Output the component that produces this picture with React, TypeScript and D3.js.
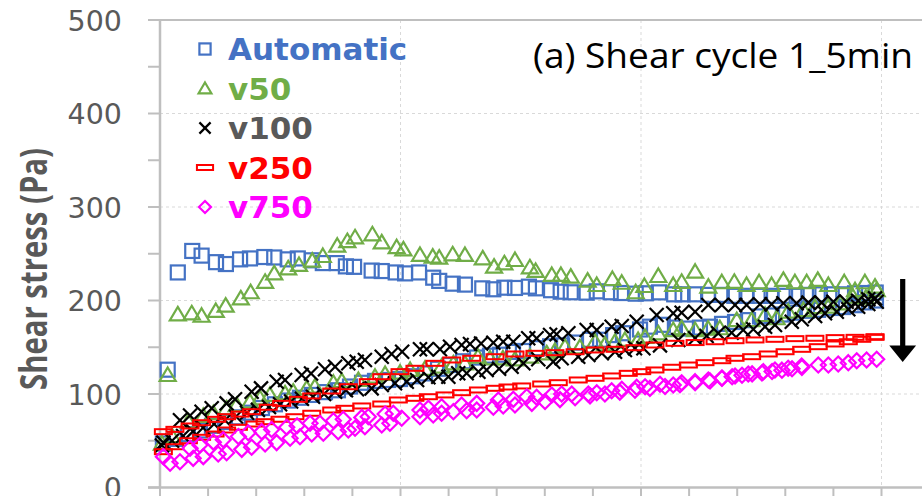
import React from 'react';
import * as d3 from 'd3';

const W = 922;
const H = 496;

const yTickValues = [0, 100, 200, 300, 400, 500];
const yMinorTicks = [0, 50, 100, 150, 200, 250, 300, 350, 400, 450, 500];
const xMinorTicks = d3.range(0, 321, 20);
const xGridValues = [100, 200, 300];

const legendNames = ['Automatic', 'v50', 'v100', 'v250', 'v750'];
const titleText = '(a) Shear cycle 1_5min';
const yTitle = 'Shear stress (Pa)';

type P = [number, number];

const automaticUp: P[] = [[3.2,126],[7.4,230],[13.4,253],[17.3,248],[23.3,241],[27.4,239],[33.3,244],[37.4,245],[43.4,246.5],[47.5,246],[53.1,244],[57.3,245],[63.1,243],[67.7,240],[73.5,240],[77.3,236.5],[80.7,236],[88.0,232],[92.2,231.5],[98.0,230],[101.9,229],[107.7,230],[113.6,224.4],[116.1,221],[121.7,218],[126.8,217],[134.0,213],[138.6,212],[143.2,213.7],[147.6,213.4],[153.4,214.8],[156.3,213],[162.6,211],[166.6,209.4],[170.8,208.8],[177.4,208.4],[181.6,209.8],[187.4,208.8],[191.7,208],[197.8,207.3],[202.0,207.7],[207.5,208.7],[213.8,206.6],[217.3,206.6],[222.5,206.6],[227.9,206],[233.6,206],[238.8,205],[243.9,205],[249.5,205],[254.3,205],[259.9,205],[264.7,205],[269.6,206],[274.4,206.6],[279.3,206.6],[284.1,206.6],[289.0,207.7],[293.1,208],[297.6,208.5]];
const automaticDown: P[] = [[1.2,47],[6.2,52],[11.6,57],[16.6,61],[21.6,66],[27.0,70],[32.4,75],[37.4,80],[42.4,85],[47.8,89],[53.2,93],[58.2,96],[63.2,99],[68.6,102],[74.0,104],[79.0,108],[84.0,112],[89.4,114],[94.8,115],[99.8,116],[104.8,119],[110.2,122],[115.6,127],[120.6,131],[126.0,135],[131.8,139],[137.2,141],[141.4,142],[146.8,145],[150.9,146],[156.8,149],[162.2,151],[167.2,152],[172.6,155],[178.8,158],[183.0,158],[188.4,163],[192.5,165],[199.6,169],[203.7,172],[209.1,174],[214.1,171],[219.1,170],[224.5,171],[228.7,172],[233.7,175],[239.1,177],[244.5,179],[249.5,183],[254.5,184],[259.0,185],[264.0,187],[269.0,189],[273.6,190],[279.4,192],[284.0,193],[289.0,195],[293.1,198],[297.7,200]];

const v50Up: P[] = [[3.2,120.3],[7.4,185.2],[13.2,186.3],[17.3,183.7],[23.2,188.8],[27.3,194.5],[33.6,202.3],[37.7,208.8],[43.7,220],[47.5,229],[53.3,234.4],[57.8,238],[63.3,242.6],[67.7,247.6],[73.7,258.6],[77.9,263.6],[81.1,267.6],[88.3,270.8],[92.2,262.2],[98.4,257],[101.2,254.7],[108.1,248.7],[113.4,246.9],[116.1,245.8],[121.7,249.4],[126.8,248.7],[134.2,245],[138.9,236.2],[143.2,239.8],[147.6,243.3],[153.8,235.5],[156.2,231.6],[162.9,227.3],[166.7,227.3],[170.8,225.5],[177.8,221.2],[181.6,216.6],[188.1,223],[192.0,219],[197.8,208.8],[201.4,215.5],[207.2,226.2],[213.4,216.6],[216.9,220],[222.5,230.8],[228.0,214.8],[233.6,219.5],[238.8,220],[243.9,216.6],[249.1,219.5],[254.3,216.6],[259.2,222],[264.0,219.5],[268.9,219.5],[273.5,222],[277.9,216.6],[284.5,219.5],[289.0,211],[293.1,219.5],[297.3,214.8]];
const v50Down: P[] = [[0.8,47],[5.0,55],[11.8,70.4],[18.0,76.5],[22.2,79.4],[27.7,84.7],[31.9,88.2],[37.4,91.8],[41.6,95.4],[45.7,99],[52.0,100.7],[55.4,102.5],[61.0,106],[64.4,107.8],[72.1,112],[75.6,113.9],[82.5,115],[89.4,118.5],[93.6,121.4],[99.8,122.8],[104.0,125.7],[110.2,127],[117.1,129.2],[122.0,132.8],[126.8,132.8],[132.2,139.9],[137.2,138],[142.6,138],[147.6,137],[153.8,140],[160.8,143.5],[164.2,146],[168.4,150.6],[174.6,150],[180.9,155.9],[185.0,153],[189.2,155.9],[193.3,157.8],[198.8,157.8],[201.7,161],[207.2,164.9],[213.4,168.4],[216.9,170.3],[222.5,168.4],[227.9,170],[232.8,170.3],[239.8,179],[246.0,179],[251.6,184.5],[256.4,181],[261.2,188],[267.5,189.8],[272.3,193],[277.8,193.4],[282.7,197],[288.1,204],[293.5,203],[298.0,211]];

const v100Up: P[] = [[1.4,48],[8.3,72],[12.5,77],[17.3,81],[21.5,84.7],[27.7,90],[31.2,94.3],[38.1,102.5],[42.0,106],[48.5,113],[52.0,115],[58.9,120.3],[62.8,122],[68.6,126.4],[72.8,129.2],[78.3,132.8],[81.8,134.5],[85.2,136.4],[92.2,139.9],[96.3,142.8],[100.7,145.2],[108.1,147.8],[110.9,147.8],[116.4,147.8],[120.6,150.6],[125.4,152.4],[128.9,153.5],[133.5,154],[138.6,154.9],[142.7,155.9],[146.9,155.9],[153.1,159.6],[156.6,159.6],[162.2,163.1],[164.9,163.8],[169.8,164.9],[177.4,168.4],[181.6,168.4],[187.8,172],[192.0,172.7],[198.2,177.3],[206.5,184.5],[213.4,186.3],[216.9,187],[222.5,188],[228.0,195.2],[233.6,195.2],[239.1,195.2],[243.9,195.2],[249.5,196],[254.3,196],[259.2,197],[264.7,197],[269.6,197.7],[275.1,197.7],[280.0,198.7],[285.5,198.7],[290.3,199.8],[294.5,201.3],[297.3,202.3]];
const v100Down: P[] = [[0.8,45],[5.0,50],[9.6,55],[13.7,60],[17.9,64],[22.5,68],[27.0,72],[31.6,76],[36.2,80],[40.7,83],[45.3,86],[49.9,89],[54.5,92],[59.0,95],[63.6,97],[68.2,100],[72.8,102.5],[77.3,104],[81.9,105],[88.0,106],[92.2,109.6],[97.7,111.4],[102.6,113.2],[106.9,115],[111.6,117.9],[115.7,118.5],[119.9,118.5],[124.0,122.1],[127.5,122.1],[132.4,123.9],[135.8,125.7],[141.0,127],[146.2,129.2],[151.1,132.8],[157.3,137.1],[163.5,134.5],[167.0,138.2],[173.9,139.9],[178.1,141.7],[183.7,143.5],[189.2,145.2],[193.3,147.1],[197.5,148.9],[201.0,148.9],[207.9,152],[215.5,157.8],[222.5,159.6],[227.3,162],[232.1,164.9],[237.7,165.6],[242.5,168.4],[246.7,169.2],[251.6,172],[255.7,173.8],[262.7,177.3],[266.8,179.9],[272.4,183.4],[276.5,186.3],[281.4,188],[286.2,190.6],[290.3,193.4],[294.5,196.3],[298.0,198.7]];

const v250Up: P[] = [[1.4,59.7],[6.2,62.2],[12.5,65.8],[17.3,69.3],[23.6,72.9],[27.7,75.7],[33.3,78.5],[38.1,81.1],[45.0,85.8],[50.6,90],[57.5,94.3],[63.1,97.9],[71.4,103.2],[78.3,107.8],[86.6,113.2],[92.2,118.5],[99.8,123.9],[106.0,127.5],[114.3,132.8],[121.3,136.4],[129.6,138.2],[139.3,139.9],[147.6,142.8],[155.9,143.5],[164.2,144.2],[172.6,145.2],[180.9,147.1],[189.2,147.8],[197.5,149.5],[205.8,152.4],[214.1,154.2],[222.5,155],[230.8,155.9],[239.1,157],[247.4,157.8],[255.7,158.5],[264.0,159.2],[272.3,159.6],[280.7,160.3],[289.0,160.6],[297.3,161.3]];
const v250Down: P[] = [[1.4,38.3],[6.2,43.6],[11.8,50],[17.3,53.7],[22.9,57.2],[27.7,61.5],[32.6,64.4],[39.5,67.9],[43.7,70.4],[49.9,73],[56.1,75.7],[63.1,79.4],[71.4,82.9],[76.9,84.7],[83.9,87.2],[92.2,89.3],[99.1,93.6],[106.0,95.4],[111.6,97.1],[118.5,99],[125.4,101.4],[132.4,104.3],[139.3,106.1],[144.7,107.5],[150.4,108.6],[158.7,110.7],[165.6,112.1],[173.9,115],[180.9,116.8],[187.8,119.3],[194.7,122.1],[200.3,123.9],[205.8,125.7],[212.8,128.6],[219.7,131],[226.6,133.5],[233.6,135.6],[239.1,138.2],[246.0,139.9],[252.9,142.8],[259.9,145.2],[266.8,147.8],[273.7,150.6],[280.7,153.5],[286.2,155.9],[291.8,158.5],[297.3,160.6]];

const v750Up: P[] = [[1.4,33],[12.5,42],[16.6,45.5],[22.2,48.5],[26.3,51],[32.6,54.6],[36.7,58.5],[42.3,59.7],[46.4,62],[52.7,64.4],[57.0,66],[62.4,68.7],[66.5,68.7],[72.1,71.4],[76.2,72.9],[83.9,75],[86.6,75.7],[93.6,78.6],[97.0,79.4],[108.1,82.9],[111.6,84.7],[117.1,86.4],[125.4,88.2],[131.7,90],[140.7,93.6],[146.9,94.3],[152.5,97.1],[156.6,96.5],[162.9,98.9],[167.0,100],[171.2,100],[178.1,100],[181.6,101.4],[187.8,103.5],[192.0,105],[198.2,107.2],[201.7,107.8],[207.9,110.4],[213.4,109.6],[216.9,112.1],[222.5,113.2],[228.0,115],[233.6,116.8],[239.1,119.3],[244.6,121.4],[250.9,123.9],[255.7,125.7],[261.2,127.5],[266.8,130],[273.7,131],[277.9,131],[282.0,132.1],[286.2,133.5],[289.7,135.6],[293.8,136.4],[298.0,137.1]];
const v750Down: P[] = [[4.2,25.9],[8.3,27.6],[13.8,31.2],[18.0,33],[24.2,35.8],[27.7,37.2],[34.0,40.8],[38.1,43],[43.7,46.5],[48.5,48],[54.1,52.6],[58.2,54.3],[63.1,57.2],[67.9,58],[74.1,59.7],[78.3,61.5],[81.1,63.3],[85.2,65],[92.2,66.8],[95.6,68.7],[100.5,74],[108.1,75.7],[113.6,77.5],[117.1,79.4],[122.0,81.1],[127.5,82.1],[131.7,82.9],[138.6,85.8],[142.7,87.2],[147.6,88.2],[154.6,90],[160.1,92],[166.3,94],[172.6,96],[178.8,98],[185.0,100],[191.2,102],[197.5,104],[203.7,106],[210.0,108],[216.2,110],[222.5,112],[228.7,114],[233.7,117],[237.9,118.5],[242.0,120],[246.2,121.5],[250.3,122.5],[254.5,124],[258.6,125.5],[262.8,127],[266.9,128.5]];

const BLUE = '#4472C4';
const GREEN = '#70AD47';
const BLACK = '#000000';
const RED = '#FF0000';
const MAGENTA = '#FF00FF';
const AXIS = '#BFBFBF';
const GRID = '#D9D9D9';
const LABEL = '#595959';

type Kind = 'square' | 'triangle' | 'x' | 'dash' | 'diamond';

function Marker({ kind, cx, cy, color, s = 1 }: { kind: Kind; cx: number; cy: number; color: string; s?: number }) {
  if (kind === 'square') {
    const h = 7 * s;
    return <rect x={cx - h} y={cy - h} width={2 * h} height={2 * h} fill="none" stroke={color} strokeWidth={2.2} />;
  }
  if (kind === 'triangle') {
    const w = 8 * s;
    return <path d={`M${cx},${cy - 7.5 * s}L${cx + w},${cy + 6 * s}L${cx - w},${cy + 6 * s}Z`} fill="none" stroke={color} strokeWidth={2.2} />;
  }
  if (kind === 'x') {
    const h = 7 * s;
    return (
      <g stroke={color} strokeWidth={2.2}>
        <line x1={cx - h} y1={cy - h} x2={cx + h} y2={cy + h} />
        <line x1={cx - h} y1={cy + h} x2={cx + h} y2={cy - h} />
      </g>
    );
  }
  if (kind === 'dash') {
    return <rect x={cx - 8.5 * s} y={cy - 2.5} width={17 * s} height={5} fill="none" stroke={color} strokeWidth={2} />;
  }
  const h = 7.5 * s;
  return <path d={`M${cx},${cy - h}L${cx + h},${cy}L${cx},${cy + h}L${cx - h},${cy}Z`} fill="none" stroke={color} strokeWidth={2.2} />;
}

const seriesList: { name: string; kind: Kind; color: string; text: string; branches: P[][] }[] = [
  { name: legendNames[0], kind: 'square', color: BLUE, text: BLUE, branches: [automaticUp, automaticDown] },
  { name: legendNames[1], kind: 'triangle', color: GREEN, text: GREEN, branches: [v50Up, v50Down] },
  { name: legendNames[2], kind: 'x', color: BLACK, text: LABEL, branches: [v100Up, v100Down] },
  { name: legendNames[3], kind: 'dash', color: RED, text: RED, branches: [v250Up, v250Down] },
  { name: legendNames[4], kind: 'diamond', color: MAGENTA, text: MAGENTA, branches: [v750Up, v750Down] },
];

export default function App() {
  const x = d3.scaleLinear().domain([0, 320]).range([160, 929.6]);
  const y = d3.scaleLinear().domain([0, 500]).range([487.5, 20]);

  const arrowX = 902.7;

  return (
    <svg width={W} height={H} style={{ position: 'absolute', left: 0, top: 0, background: '#fff' }}>
      <rect width={W} height={H} fill="#fff" />
      {yTickValues.filter(v => v > 0 && v < 500).map(v => (
        <line key={'hg' + v} x1={x(0)} x2={W} y1={y(v)} y2={y(v)} stroke={GRID} strokeWidth={1} strokeDasharray="3,3" />
      ))}
      {xGridValues.map(v => (
        <line key={'vg' + v} x1={x(v)} x2={x(v)} y1={y(500)} y2={y(0)} stroke={GRID} strokeWidth={1} strokeDasharray="3,3" />
      ))}
      <line x1={148} x2={W} y1={y(500)} y2={y(500)} stroke={AXIS} strokeWidth={2} />
      <line x1={x(0)} x2={x(0)} y1={y(500)} y2={y(0)} stroke={AXIS} strokeWidth={2.5} />
      {yMinorTicks.map(v => (
        <line key={'yt' + v} x1={148} x2={x(0)} y1={y(v)} y2={y(v)} stroke={AXIS} strokeWidth={2} />
      ))}
      <line x1={148} x2={W} y1={y(0)} y2={y(0)} stroke={AXIS} strokeWidth={2.5} />
      {xMinorTicks.map(v => (
        <line key={'xt' + v} x1={x(v)} x2={x(v)} y1={y(0)} y2={y(0) + 12} stroke={AXIS} strokeWidth={2} />
      ))}
      {yTickValues.map(v => (
        <text key={'yl' + v} x={122} y={y(v) + 10.5} textAnchor="end" fontFamily="DejaVu Sans" fontSize={28.5} fill={LABEL}>
          {v}
        </text>
      ))}
      <text transform={`translate(47,269) rotate(-90)`} textAnchor="middle" fontFamily="Open Sans" fontWeight="bold" fontSize={37} fill={LABEL} textLength={242} lengthAdjust="spacingAndGlyphs">
        {yTitle}
      </text>
      {seriesList.map(s => (
        <g key={s.name}>
          {s.branches.map((b, bi) => b.map((p, i) => (
            <Marker key={bi + '-' + i} kind={s.kind} cx={x(p[0])} cy={y(p[1])} color={s.color} />
          )))}
        </g>
      ))}
      {seriesList.map((s, i) => {
        const cy = 49 + i * 39.5;
        return (
          <g key={'lg' + s.name}>
            <Marker kind={s.kind} cx={205} cy={cy} color={s.color} s={s.kind === 'dash' ? 0.95 : 0.8} />
            <text x={228} y={cy + 11} fontFamily="DejaVu Sans" fontWeight="bold" fontSize={31} fill={s.text}>
              {s.name}
            </text>
          </g>
        );
      })}
      <text x={533} y={68} fontFamily="Open Sans" fontSize={34} fill="#000" textLength={380} lengthAdjust="spacingAndGlyphs">
        {titleText}
      </text>
      <rect x={arrowX - 2.6} y={279} width={5.2} height={70} fill="#000" />
      <path d={`M${arrowX - 13.4},345.5L${arrowX + 13.4},345.5L${arrowX},362Z`} fill="#000" />
    </svg>
  );
}
